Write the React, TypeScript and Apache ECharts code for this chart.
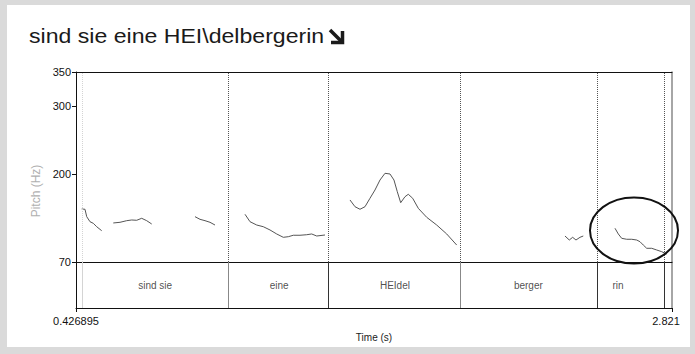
import React, { useEffect, useRef } from "react";
import * as echarts from "echarts";

const titleText = "sind sie eine HEI\\delbergerin";

const timeMin = 0.426895;
const timeMax = 2.821;
const timeTickLabels = ["0.426895", "2.821"];

const pitchMin = 70;
const pitchMax = 350;
const pitchTicks = [70, 200, 300, 350];

// pitch track (s, Hz); null marks an unvoiced gap
const pitchTime = [
  0.4498, 0.463, 0.4699, 0.4831, 0.4964, 0.51, 0.5301, 0.55,
  0.5767, 0.6036, 0.6306, 0.6506, 0.6707, 0.6908, 0.7109, 0.731, 0.8,
  0.9049, 0.925, 0.9451, 0.9652, 0.9852, 1.05,
  1.1058, 1.1259, 1.1528, 1.1793, 1.2062, 1.2331, 1.2596, 1.2797, 1.2998, 1.3267, 1.3536, 1.3737, 1.3938, 1.4271, 1.48,
  1.5275, 1.5476, 1.5677, 1.5878, 1.6078, 1.6279, 1.648, 1.6681, 1.6882, 1.7042, 1.7175, 1.7312, 1.7484, 1.7617, 1.7794, 1.8019, 1.8356, 1.8758, 1.916, 1.9561, 2.1,
  2.3911, 2.4084, 2.422, 2.4353, 2.4514, 2.4646, 2.53,
  2.592, 2.6053, 2.6189, 2.639, 2.6591, 2.6792, 2.6924, 2.7057, 2.7194, 2.7395, 2.7595, 2.7796, 2.7997,
];
const pitchHz = [
  148.1, 147.7, 136.8, 129.4, 127.0, 122.0, 116.1, null,
  127.5, 128.5, 130.9, 131.9, 131.5, 134.4, 130.9, 126.0, null,
  136.8, 132.9, 130.9, 128.5, 124.5, null,
  140.3, 129.4, 124.5, 122.0, 117.2, 111.3, 106.4, 107.3, 109.4, 109.4, 110.2, 111.3, 108.3, 109.8, null,
  161.4, 151.5, 147.7, 151.5, 163.9, 176.1, 190.8, 200.7, 199.7, 190.8, 173.6, 157.4, 166.2, 169.8, 163.9, 149.1, 135.9, 124.5, 111.3, 95.0, null,
  108.3, 102.4, 106.4, 102.4, 106.4, 108.3, null,
  119.7, 111.3, 104.9, 103.5, 103.5, 102.4, 99.9, 95.0, 90.2, 90.2, 87.7, 85.2, 81.8,
];

const tierBounds = [0.451, 1.0415, 1.4432, 1.9734, 2.5157, 2.7928];
const tierLabels = ["sind sie", "eine", "HEIdel", "berger", "rin"];
const tierLabelTimes = [0.745, 1.243, 1.708, 2.244, 2.604];

const FONT = "'Liberation Sans', Arial, sans-serif";

export default function App() {
  const ref = useRef<HTMLDivElement>(null);
  useEffect(() => {
    if (!ref.current) return;
    const chart = echarts.init(ref.current, null, { renderer: "svg" });
    const pitchData = pitchTime.map((t, i) => [t, pitchHz[i] === null ? "-" : pitchHz[i]]);
    const boundLinesPitch = tierBounds.map((b, i) => ({
      xAxis: b,
      lineStyle: { color: i === 0 ? "#d4d4d4" : "#555", type: "dotted", width: 1 },
    }));
    const boundLinesTier = tierBounds.map((b, i) => ({
      xAxis: b,
      lineStyle: { color: i === 0 ? "#d4d4d4" : i === 2 || i === 4 || i === 5 ? "#333" : "#888", type: "solid", width: 1 },
    }));
    const hiddenX = {
      type: "value",
      min: timeMin,
      max: timeMax,
      axisTick: { show: false },
      axisLabel: { show: false },
      splitLine: { show: false },
    };
    chart.setOption({
      animation: false,
      backgroundColor: "#dadada",
      textStyle: { fontFamily: FONT },
      grid: [
        { left: 76, top: 72, width: 596, height: 190 },
        { left: 76, top: 262, width: 596, height: 46 },
      ],
      xAxis: [
        { ...hiddenX, gridIndex: 0, position: "bottom", axisLine: { show: true, lineStyle: { color: "#111", width: 1 } } },
        { ...hiddenX, gridIndex: 0, position: "top", axisLine: { show: true, lineStyle: { color: "#111", width: 1 } } },
        {
          type: "value",
          gridIndex: 1,
          position: "bottom",
          min: timeMin,
          max: timeMax,
          splitLine: { show: false },
          axisLine: { show: true, lineStyle: { color: "#111", width: 1 } },
          axisTick: { show: true, length: 4, customValues: [timeMin, timeMax], lineStyle: { color: "#111" } },
          axisLabel: {
            show: true,
            customValues: [timeMin, timeMax],
            formatter: (v: number) =>
              Math.abs(v - timeMin) < 1e-6 ? "{a|" + timeTickLabels[0] + "}" : "{b|" + timeTickLabels[1] + "}",
            rich: {
              a: { fontSize: 11, color: "#111", fontFamily: FONT },
              b: { fontSize: 11, color: "#111", fontFamily: FONT, padding: [0, 12, 0, 0] },
            },
            fontSize: 11,
            color: "#111",
            margin: 7,
            fontFamily: FONT,
          },
          name: "Time (s)",
          nameLocation: "middle",
          nameGap: 24,
          nameTextStyle: { fontSize: 10, color: "#222", fontFamily: FONT },
        },
      ],
      yAxis: [
        {
          type: "value",
          gridIndex: 0,
          position: "left",
          min: pitchMin,
          max: pitchMax,
          splitLine: { show: false },
          axisLine: { show: true, lineStyle: { color: "#111", width: 1 } },
          axisTick: { show: true, length: 4, customValues: pitchTicks, lineStyle: { color: "#111" } },
          axisLabel: { show: true, customValues: pitchTicks, fontSize: 11, color: "#111", margin: 5, fontFamily: FONT },
        },
        {
          type: "value",
          gridIndex: 0,
          position: "right",
          min: pitchMin,
          max: pitchMax,
          splitLine: { show: false },
          axisTick: { show: false },
          axisLabel: { show: false },
          axisLine: { show: true, lineStyle: { color: "#888", width: 1.5 } },
        },
        {
          type: "value",
          gridIndex: 1,
          position: "left",
          min: 0,
          max: 1,
          splitLine: { show: false },
          axisTick: { show: false },
          axisLabel: { show: false },
          axisLine: { show: true, lineStyle: { color: "#111", width: 1 } },
        },
        {
          type: "value",
          gridIndex: 1,
          position: "right",
          min: 0,
          max: 1,
          splitLine: { show: false },
          axisTick: { show: false },
          axisLabel: { show: false },
          axisLine: { show: true, lineStyle: { color: "#888", width: 1.5 } },
        },
      ],
      series: [
        {
          type: "line",
          xAxisIndex: 0,
          yAxisIndex: 0,
          data: pitchData,
          showSymbol: false,
          connectNulls: false,
          lineStyle: { color: "#555", width: 1 },
          markLine: { silent: true, symbol: "none", label: { show: false }, data: boundLinesPitch },
        },
        {
          type: "scatter",
          xAxisIndex: 2,
          yAxisIndex: 2,
          data: tierLabelTimes.map((t) => [t, 0.5]),
          symbolSize: 1,
          itemStyle: { color: "transparent" },
          label: {
            show: true,
            position: "inside",
            formatter: (p: any) => tierLabels[p.dataIndex],
            fontSize: 10,
            color: "#222",
            fontFamily: FONT,
          },
          markLine: { silent: true, symbol: "none", label: { show: false }, data: boundLinesTier },
        },
      ],
      graphic: [
        { type: "rect", shape: { x: 7, y: 5, width: 683, height: 342 }, style: { fill: "#fff" }, z: -10 },
        {
          type: "text",
          x: 29,
          y: 36,
          scaleX: 1.155,
          style: { text: titleText, fontSize: 20, fill: "#1a1a1a", fontFamily: FONT, verticalAlign: "middle", align: "left" },
        },
        {
          type: "group",
          children: [
            { type: "line", shape: { x1: 330, y1: 30, x2: 341, y2: 41 }, style: { stroke: "#1a1a1a", lineWidth: 3.5 } },
            {
              type: "polyline",
              shape: { points: [[331, 42.5], [342.5, 42.5], [342.5, 31]] },
              style: { stroke: "#1a1a1a", lineWidth: 3.5, fill: "none" },
            },
          ],
        },
        {
          type: "text",
          x: 36,
          y: 191,
          rotation: Math.PI / 2,
          style: { text: "Pitch (Hz)", fontSize: 12, fill: "#b0b0b0", fontFamily: FONT, verticalAlign: "middle", align: "center" },
        },
        {
          type: "ellipse",
          shape: { cx: 634, cy: 230.5, rx: 44, ry: 33 },
          style: { fill: "none", stroke: "#111", lineWidth: 2 },
          z: 100,
        },
      ],
    });
    return () => chart.dispose();
  }, []);
  return <div ref={ref} style={{ position: "fixed", left: 0, top: 0, width: 695, height: 354 }} />;
}
